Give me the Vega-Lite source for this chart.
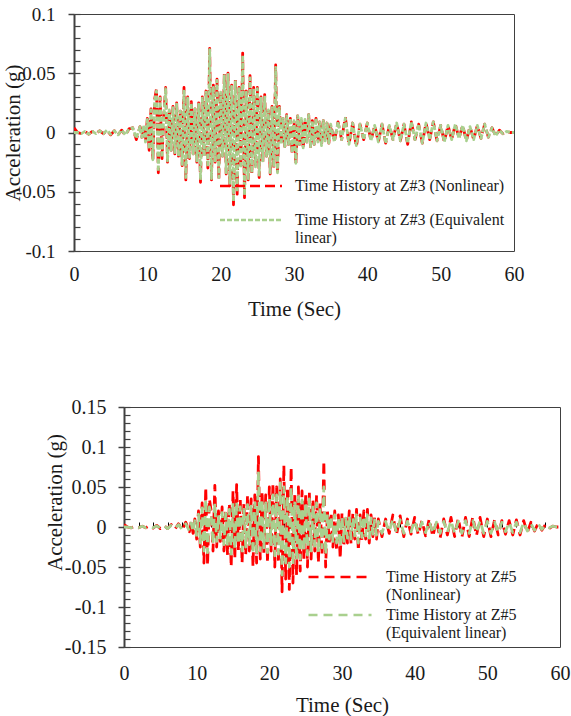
{
"$schema": "https://vega.github.io/schema/vega-lite/v6.json",
"background": "white",
"padding": {"left": 0, "top": 4, "right": 0, "bottom": 0},
"spacing": 76,
"resolve": {"scale": {"color": "independent", "strokeDash": "independent"}, "legend": {"color": "independent", "strokeDash": "independent"}},
"datasets": {
"z3": [
{"t":0,"n":0.004,"e":0},{"t":0.5,"n":0,"e":0},{"t":1,"n":-0.001,"e":-0.001},{"t":1.5,"n":0.001,"e":0.001},{"t":2,"n":-0.0015,"e":-0.0015},{"t":2.5,"n":0.001,"e":0.001},{"t":3,"n":-0.001,"e":-0.001},{"t":3.5,"n":0.0015,"e":0.0015},{"t":4,"n":-0.001,"e":-0.001},{"t":4.5,"n":0.002,"e":0.002},{"t":5,"n":-0.002,"e":-0.0015},{"t":5.5,"n":0.0015,"e":0.0015},{"t":6,"n":-0.002,"e":-0.002},{"t":6.5,"n":0.002,"e":0.002},{"t":7,"n":-0.0025,"e":-0.002},{"t":7.5,"n":0.003,"e":0.003},{"t":8,"n":0.004,"e":0.004},{"t":8.5,"n":-0.006,"e":-0.005},{"t":9,"n":0.005,"e":0.005},
{"t":9.25,"n":-0.004,"e":-0.004},{"t":9.5,"n":0.006,"e":0.006},{"t":9.75,"n":-0.008,"e":-0.008},{"t":10,"n":0.012,"e":0.011},{"t":10.25,"n":-0.015,"e":-0.014},{"t":10.5,"n":0.02,"e":0.019},{"t":10.75,"n":-0.024,"e":-0.023},{"t":11,"n":0.028,"e":0.027},{"t":11.25,"n":0.037,"e":0.035},{"t":11.5,"n":-0.034,"e":-0.033},{"t":11.75,"n":0.03,"e":0.029},{"t":12,"n":-0.022,"e":-0.021},{"t":12.25,"n":0.015,"e":0.015},{"t":12.5,"n":0.038,"e":0.037},{"t":12.75,"n":-0.025,"e":-0.024},{"t":13,"n":0.02,"e":0.019},{"t":13.25,"n":-0.015,"e":-0.015},{"t":13.5,"n":0.022,"e":0.021},{"t":13.75,"n":-0.018,"e":-0.017},{"t":14,"n":0.025,"e":0.024},{"t":14.25,"n":-0.02,"e":-0.02},{"t":14.5,"n":0.018,"e":0.018},{"t":14.75,"n":-0.028,"e":-0.027},{"t":15,"n":0.038,"e":0.036},{"t":15.25,"n":-0.04,"e":-0.038},{"t":15.5,"n":0.03,"e":0.029},{"t":15.75,"n":-0.022,"e":-0.021},{"t":16,"n":0.026,"e":0.025},{"t":16.25,"n":-0.018,"e":-0.018},{"t":16.5,"n":0.02,"e":0.02},{"t":16.75,"n":-0.025,"e":-0.024},{"t":17,"n":0.025,"e":0.024},{"t":17.25,"n":-0.042,"e":-0.04},{"t":17.5,"n":0.03,"e":0.029},{"t":17.75,"n":-0.02,"e":-0.02},{"t":18,"n":0.035,"e":0.034},{"t":18.25,"n":-0.03,"e":-0.029},{"t":18.5,"n":0.071,"e":0.07},{"t":18.75,"n":-0.04,"e":-0.039},{"t":19,"n":0.04,"e":0.038},{"t":19.25,"n":-0.025,"e":-0.025},{"t":19.5,"n":0.045,"e":0.044},{"t":19.75,"n":-0.04,"e":-0.038},{"t":20,"n":0.035,"e":0.034},{"t":20.25,"n":-0.02,"e":-0.02},{"t":20.5,"n":0.05,"e":0.048},{"t":20.75,"n":-0.035,"e":-0.034},{"t":21,"n":0.05,"e":0.049},{"t":21.25,"n":-0.045,"e":-0.043},{"t":21.5,"n":0.04,"e":0.039},{"t":21.75,"n":-0.061,"e":-0.058},{"t":22,"n":0.045,"e":0.043},{"t":22.25,"n":-0.052,"e":-0.05},{"t":22.5,"n":0.038,"e":0.037},{"t":22.75,"n":-0.03,"e":-0.03},{"t":23,"n":0.067,"e":0.065},{"t":23.25,"n":-0.055,"e":-0.053},{"t":23.5,"n":0.035,"e":0.034},{"t":23.75,"n":-0.04,"e":-0.039},{"t":24,"n":0.048,"e":0.046},{"t":24.25,"n":-0.035,"e":-0.034},{"t":24.5,"n":0.038,"e":0.037},{"t":24.75,"n":-0.03,"e":-0.029},{"t":25,"n":0.038,"e":0.037},{"t":25.25,"n":-0.038,"e":-0.036},{"t":25.5,"n":0.03,"e":0.029},{"t":25.75,"n":-0.025,"e":-0.024},{"t":26,"n":0.032,"e":0.031},{"t":26.25,"n":-0.02,"e":-0.02},{"t":26.5,"n":0.02,"e":0.019},{"t":26.75,"n":-0.035,"e":-0.034},{"t":27,"n":0.022,"e":0.021},{"t":27.25,"n":-0.03,"e":-0.029},{"t":27.5,"n":0.057,"e":0.055},{"t":27.75,"n":-0.035,"e":-0.034},{"t":28,"n":0.022,"e":0.021},{"t":28.25,"n":-0.01,"e":-0.01},{"t":28.5,"n":0.012,"e":0.012},{"t":28.75,"n":-0.012,"e":-0.012},{"t":29,"n":0.015,"e":0.014},{"t":29.25,"n":-0.01,"e":-0.01},{"t":29.5,"n":0.012,"e":0.012},{"t":29.75,"n":-0.018,"e":-0.017},{"t":30,"n":0.01,"e":0.01},{"t":30.25,"n":-0.027,"e":-0.026},{"t":30.5,"n":0.014,"e":0.014},{"t":30.75,"n":-0.01,"e":-0.01},{"t":31,"n":0.012,"e":0.012},{"t":31.25,"n":-0.014,"e":-0.013},{"t":31.5,"n":0.011,"e":0.011},{"t":31.75,"n":-0.008,"e":-0.008},{"t":32,"n":0.015,"e":0.015},{"t":32.25,"n":-0.012,"e":-0.012},{"t":32.5,"n":0.01,"e":0.01},{"t":32.75,"n":-0.01,"e":-0.01},{"t":33,"n":0.012,"e":0.012},{"t":33.25,"n":-0.008,"e":-0.008},{"t":33.5,"n":0.009,"e":0.009},{"t":33.75,"n":-0.011,"e":-0.011},{"t":34,"n":0.01,"e":0.01},{"t":34.25,"n":-0.007,"e":-0.007},{"t":34.5,"n":0.008,"e":0.008},{"t":34.75,"n":-0.009,"e":-0.009},{"t":35,"n":0.007,"e":0.007},
{"t":35.5,"n":-0.008,"e":-0.008},{"t":36,"n":0.009,"e":0.009},{"t":36.5,"n":-0.006,"e":-0.006},{"t":37,"n":0.013,"e":0.012},{"t":37.5,"n":-0.01,"e":-0.01},{"t":38,"n":0.008,"e":0.008},{"t":38.5,"n":-0.012,"e":-0.011},{"t":39,"n":0.007,"e":0.007},{"t":39.5,"n":-0.006,"e":-0.006},{"t":40,"n":0.008,"e":0.008},{"t":40.5,"n":-0.007,"e":-0.007},{"t":41,"n":0.006,"e":0.006},{"t":41.5,"n":-0.008,"e":-0.008},{"t":42,"n":0.007,"e":0.007},{"t":42.5,"n":-0.009,"e":-0.009},{"t":43,"n":0.006,"e":0.006},{"t":43.5,"n":-0.006,"e":-0.006},{"t":44,"n":0.008,"e":0.008},{"t":44.5,"n":-0.007,"e":-0.007},{"t":45,"n":0.007,"e":0.007},{"t":45.5,"n":-0.01,"e":-0.009},{"t":46,"n":0.009,"e":0.009},{"t":46.5,"n":-0.006,"e":-0.006},{"t":47,"n":0.007,"e":0.007},{"t":47.5,"n":-0.009,"e":-0.009},{"t":48,"n":0.008,"e":0.008},{"t":48.5,"n":-0.006,"e":-0.006},{"t":49,"n":0.009,"e":0.009},{"t":49.5,"n":-0.007,"e":-0.007},{"t":50,"n":0.006,"e":0.006},{"t":50.5,"n":-0.008,"e":-0.008},{"t":51,"n":0.006,"e":0.006},{"t":51.5,"n":-0.006,"e":-0.006},{"t":52,"n":0.007,"e":0.007},{"t":52.5,"n":-0.005,"e":-0.005},{"t":53,"n":0.006,"e":0.006},{"t":53.5,"n":-0.007,"e":-0.007},{"t":54,"n":0.005,"e":0.005},{"t":54.5,"n":-0.006,"e":-0.006},{"t":55,"n":0.006,"e":0.006},{"t":55.5,"n":-0.005,"e":-0.005},{"t":56,"n":0.007,"e":0.007},{"t":56.5,"n":-0.004,"e":-0.004},{"t":57,"n":0.004,"e":0.004},{"t":57.5,"n":-0.003,"e":-0.003},{"t":58,"n":0.002,"e":0.002},{"t":58.5,"n":-0.001,"e":-0.001},{"t":59,"n":0.001,"e":0.001},{"t":59.5,"n":0,"e":0},{"t":60,"n":0,"e":0}
],
"z5": [
{"t":0,"n":0.003,"e":0},{"t":0.5,"n":0,"e":0},{"t":1,"n":-0.001,"e":-0.001},{"t":1.5,"n":0.001,"e":0.001},{"t":2,"n":-0.001,"e":-0.001},{"t":2.5,"n":0.001,"e":0.001},{"t":3,"n":-0.001,"e":-0.001},{"t":3.5,"n":0.0015,"e":0.001},{"t":4,"n":-0.0015,"e":-0.001},{"t":4.5,"n":0.002,"e":0.0015},{"t":5,"n":-0.002,"e":-0.0015},{"t":5.5,"n":0.002,"e":0.0015},{"t":6,"n":-0.002,"e":-0.002},{"t":6.5,"n":0.003,"e":0.002},{"t":7,"n":-0.003,"e":-0.002},{"t":7.5,"n":0.004,"e":0.003},{"t":8,"n":-0.004,"e":-0.003},{"t":8.5,"n":0.006,"e":0.004},{"t":9,"n":-0.006,"e":-0.005},
{"t":9.25,"n":0.007,"e":0.005},{"t":9.5,"n":-0.008,"e":-0.006},{"t":9.75,"n":0.01,"e":0.008},{"t":10,"n":-0.015,"e":-0.012},{"t":10.25,"n":0.02,"e":0.016},{"t":10.5,"n":-0.025,"e":-0.02},{"t":10.75,"n":0.03,"e":0.024},{"t":11,"n":-0.045,"e":-0.03},{"t":11.25,"n":0.05,"e":0.035},{"t":11.5,"n":-0.048,"e":-0.032},{"t":11.75,"n":0.035,"e":0.025},{"t":12,"n":0.02,"e":0.016},{"t":12.25,"n":-0.03,"e":-0.022},{"t":12.5,"n":0.052,"e":0.03},{"t":12.75,"n":-0.025,"e":-0.018},{"t":13,"n":0.02,"e":0.015},{"t":13.25,"n":-0.018,"e":-0.014},{"t":13.5,"n":0.025,"e":0.018},{"t":13.75,"n":-0.03,"e":-0.022},{"t":14,"n":0.022,"e":0.017},{"t":14.25,"n":-0.035,"e":-0.025},{"t":14.5,"n":0.03,"e":0.022},{"t":14.75,"n":-0.05,"e":-0.034},{"t":15,"n":0.045,"e":0.03},{"t":15.25,"n":-0.04,"e":-0.028},{"t":15.5,"n":0.053,"e":0.032},{"t":15.75,"n":-0.03,"e":-0.022},{"t":16,"n":0.035,"e":0.025},{"t":16.25,"n":-0.045,"e":-0.03},{"t":16.5,"n":0.03,"e":0.022},{"t":16.75,"n":-0.035,"e":-0.025},{"t":17,"n":0.04,"e":0.028},{"t":17.25,"n":-0.03,"e":-0.022},{"t":17.5,"n":0.035,"e":0.026},{"t":17.75,"n":-0.05,"e":-0.034},{"t":18,"n":0.04,"e":0.03},{"t":18.25,"n":-0.045,"e":-0.032},{"t":18.5,"n":0.088,"e":0.07},{"t":18.75,"n":-0.04,"e":-0.03},{"t":19,"n":0.045,"e":0.035},{"t":19.25,"n":-0.035,"e":-0.026},{"t":19.5,"n":0.04,"e":0.03},{"t":19.75,"n":-0.045,"e":-0.032},{"t":20,"n":0.05,"e":0.036},{"t":20.25,"n":-0.03,"e":-0.022},{"t":20.5,"n":0.055,"e":0.04},{"t":20.75,"n":-0.05,"e":-0.036},{"t":21,"n":0.05,"e":0.04},{"t":21.25,"n":-0.045,"e":-0.034},{"t":21.5,"n":0.06,"e":0.055},{"t":21.75,"n":-0.081,"e":-0.06},{"t":22,"n":0.077,"e":0.05},{"t":22.25,"n":-0.065,"e":-0.045},{"t":22.5,"n":0.05,"e":0.038},{"t":22.75,"n":-0.078,"e":-0.05},{"t":23,"n":0.075,"e":0.05},{"t":23.25,"n":-0.07,"e":-0.048},{"t":23.5,"n":0.04,"e":0.03},{"t":23.75,"n":-0.06,"e":-0.042},{"t":24,"n":0.05,"e":0.038},{"t":24.25,"n":-0.055,"e":-0.04},{"t":24.5,"n":0.045,"e":0.034},{"t":24.75,"n":-0.04,"e":-0.03},{"t":25,"n":0.04,"e":0.03},{"t":25.25,"n":-0.05,"e":-0.035},{"t":25.5,"n":0.045,"e":0.035},{"t":25.75,"n":-0.04,"e":-0.03},{"t":26,"n":0.035,"e":0.028},{"t":26.25,"n":-0.03,"e":-0.024},{"t":26.5,"n":0.04,"e":0.03},{"t":26.75,"n":-0.045,"e":-0.032},{"t":27,"n":0.03,"e":0.024},{"t":27.25,"n":-0.035,"e":-0.026},{"t":27.5,"n":0.083,"e":0.05},{"t":27.75,"n":-0.05,"e":-0.035},{"t":28,"n":0.02,"e":0.016},{"t":28.25,"n":-0.02,"e":-0.015},{"t":28.5,"n":0.018,"e":0.014},{"t":28.75,"n":-0.025,"e":-0.018},{"t":29,"n":0.02,"e":0.015},{"t":29.25,"n":-0.03,"e":-0.02},{"t":29.5,"n":0.015,"e":0.012},{"t":29.75,"n":-0.04,"e":-0.025},{"t":30,"n":0.018,"e":0.013},{"t":30.25,"n":-0.025,"e":-0.018},{"t":30.5,"n":0.015,"e":0.011},{"t":30.75,"n":-0.02,"e":-0.014},{"t":31,"n":0.02,"e":0.014},{"t":31.25,"n":-0.022,"e":-0.015},{"t":31.5,"n":0.018,"e":0.012},{"t":31.75,"n":-0.015,"e":-0.011},{"t":32,"n":0.022,"e":0.015},{"t":32.25,"n":-0.03,"e":-0.02},{"t":32.5,"n":0.015,"e":0.011},{"t":32.75,"n":-0.018,"e":-0.013},{"t":33,"n":0.02,"e":0.014},{"t":33.25,"n":-0.015,"e":-0.011},{"t":33.5,"n":0.022,"e":0.015},{"t":33.75,"n":-0.02,"e":-0.014},{"t":34,"n":0.015,"e":0.011},{"t":34.25,"n":-0.012,"e":-0.009},{"t":34.5,"n":0.012,"e":0.009},{"t":34.75,"n":-0.015,"e":-0.01},{"t":35,"n":0.01,"e":0.007},
{"t":35.5,"n":-0.012,"e":-0.008},{"t":36,"n":0.01,"e":0.007},{"t":36.5,"n":-0.008,"e":-0.006},{"t":37,"n":0.015,"e":0.01},{"t":37.5,"n":-0.01,"e":-0.007},{"t":38,"n":0.014,"e":0.009},{"t":38.5,"n":-0.012,"e":-0.008},{"t":39,"n":0.01,"e":0.007},{"t":39.5,"n":-0.009,"e":-0.006},{"t":40,"n":0.012,"e":0.008},{"t":40.5,"n":-0.01,"e":-0.007},{"t":41,"n":0.008,"e":0.006},{"t":41.5,"n":-0.011,"e":-0.007},{"t":42,"n":0.01,"e":0.007},{"t":42.5,"n":-0.012,"e":-0.008},{"t":43,"n":0.008,"e":0.006},{"t":43.5,"n":-0.014,"e":-0.008},{"t":44,"n":0.01,"e":0.007},{"t":44.5,"n":-0.01,"e":-0.007},{"t":45,"n":0.012,"e":0.008},{"t":45.5,"n":-0.012,"e":-0.008},{"t":46,"n":0.011,"e":0.007},{"t":46.5,"n":-0.013,"e":-0.008},{"t":47,"n":0.012,"e":0.008},{"t":47.5,"n":-0.012,"e":-0.008},{"t":48,"n":0.013,"e":0.008},{"t":48.5,"n":-0.011,"e":-0.007},{"t":49,"n":0.012,"e":0.008},{"t":49.5,"n":-0.012,"e":-0.008},{"t":50,"n":0.01,"e":0.007},{"t":50.5,"n":-0.012,"e":-0.008},{"t":51,"n":0.009,"e":0.006},{"t":51.5,"n":-0.01,"e":-0.007},{"t":52,"n":0.008,"e":0.006},{"t":52.5,"n":-0.009,"e":-0.006},{"t":53,"n":0.008,"e":0.006},{"t":53.5,"n":-0.01,"e":-0.007},{"t":54,"n":0.009,"e":0.006},{"t":54.5,"n":-0.01,"e":-0.007},{"t":55,"n":0.008,"e":0.006},{"t":55.5,"n":-0.007,"e":-0.005},{"t":56,"n":0.006,"e":0.004},{"t":56.5,"n":-0.005,"e":-0.004},{"t":57,"n":0.005,"e":0.004},{"t":57.5,"n":-0.004,"e":-0.003},{"t":58,"n":0.003,"e":0.002},{"t":58.5,"n":-0.002,"e":-0.001},{"t":59,"n":0.001,"e":0.001},{"t":59.5,"n":0,"e":0},{"t":60,"n":0,"e":0}
]
},
"vconcat": [
{
"spacing": 0,
"resolve": {"scale": {"color": "independent", "strokeDash": "independent"}, "legend": {"color": "independent", "strokeDash": "independent"}},
"hconcat": [
{"width": 1, "height": 10, "data": {"values": []}, "mark": "point", "view": {"stroke": null}},
{
"width": 440, "height": 237,
"data": {"name": "z3"},
"transform": [{"fold": ["n", "e"], "as": ["series", "a"]}],
"layer": [
{
"transform": [{"filter": "datum.series === 'n'"}],
"mark": {"type": "line", "strokeWidth": 2.8, "strokeJoin": "round", "clip": true},
"encoding": {
"x": {"field": "t", "type": "quantitative", "scale": {"domain": [0, 60], "nice": false},
"axis": {"values": [0, 10, 20, 30, 40, 50, 60], "ticks": false, "domain": false, "labelFlush": false, "labelFontSize": 20, "labelBaseline": "middle", "labelPadding": 23, "title": "Time (Sec)", "titleFontSize": 21, "titleBaseline": "middle", "titleY": 58}},
"y": {"field": "a", "type": "quantitative", "scale": {"domain": [-0.1, 0.1], "nice": false, "zero": false},
"axis": {"orient": "left", "values": [-0.1, -0.05, 0, 0.05, 0.1], "labelExpr": "replace(format(datum.value, '~g'), '\u2212', '-')", "tickSize": 6, "tickColor": "#404040", "tickWidth": 1.5, "domainColor": "#404040", "domainWidth": 2, "labelFontSize": 19, "labelPadding": 13, "title": "Acceleration (g)", "titleFontSize": 21, "titleBaseline": "bottom", "titleX": -51, "titleY": 118.5}},
"color": {"field": "series", "type": "nominal", "scale": {"domain": ["n", "e"], "range": ["#FF0000", "#A9D08E"]},
"legend": {"orient": "none", "legendX": 165, "legendY": 160, "title": null, "symbolType": "M-3,0H3", "symbolSize": 427, "symbolStrokeWidth": 2.5, "labelFontSize": 16, "labelOffset": 32, "labelLimit": 400, "padding": 0, "rowPadding": 14,
"labelExpr": "datum.value === 'n' ? 'Time History at Z#3 (Nonlinear)' : ['Time History at Z#3 (Equivalent', 'linear)']"}},
"strokeDash": {"field": "series", "type": "nominal", "scale": {"domain": ["n", "e"], "range": [[10, 5], [5, 2]]},
"legend": {"orient": "none", "legendX": 165, "legendY": 160, "title": null, "symbolType": "M-3,0H3", "symbolSize": 427, "symbolStrokeWidth": 2.5, "labelFontSize": 16, "labelOffset": 32, "labelLimit": 400, "padding": 0, "rowPadding": 14,
"labelExpr": "datum.value === 'n' ? 'Time History at Z#3 (Nonlinear)' : ['Time History at Z#3 (Equivalent', 'linear)']"}}
}
},
{
"transform": [{"filter": "datum.series === 'e'"}],
"mark": {"type": "line", "strokeWidth": 2.8, "strokeJoin": "round", "clip": true},
"encoding": {
"x": {"field": "t", "type": "quantitative"},
"y": {"field": "a", "type": "quantitative",
"axis": {"orient": "left", "values": [-0.1, -0.09, -0.08, -0.07, -0.06, -0.05, -0.04, -0.03, -0.02, -0.01, 0, 0.01, 0.02, 0.03, 0.04, 0.05, 0.06, 0.07, 0.08, 0.09, 0.1], "labels": false, "domain": false, "tickSize": -6, "tickColor": "#404040", "tickWidth": 1.2, "title": null}},
"color": {"field": "series", "type": "nominal"},
"strokeDash": {"field": "series", "type": "nominal"}
}
}
],
"resolve": {"axis": {"y": "independent"}}
}
]
},
{
"spacing": 0,
"resolve": {"scale": {"color": "independent", "strokeDash": "independent"}, "legend": {"color": "independent", "strokeDash": "independent"}},
"hconcat": [
{"width": 43, "height": 10, "data": {"values": []}, "mark": "point", "view": {"stroke": null}},
{
"width": 436, "height": 240,
"data": {"name": "z5"},
"transform": [{"fold": ["n", "e"], "as": ["series", "a"]}],
"layer": [
{
"transform": [{"filter": "datum.series === 'n'"}],
"mark": {"type": "line", "strokeWidth": 2.8, "strokeJoin": "round", "clip": true},
"encoding": {
"x": {"field": "t", "type": "quantitative", "scale": {"domain": [0, 60], "nice": false},
"axis": {"values": [0, 10, 20, 30, 40, 50, 60], "ticks": false, "domain": false, "labelFlush": false, "labelFontSize": 20, "labelBaseline": "middle", "labelPadding": 26, "title": "Time (Sec)", "titleFontSize": 21, "titleBaseline": "middle", "titleY": 58}},
"y": {"field": "a", "type": "quantitative", "scale": {"domain": [-0.15, 0.15], "nice": false, "zero": false},
"axis": {"orient": "left", "values": [-0.15, -0.1, -0.05, 0, 0.05, 0.1, 0.15], "labelExpr": "replace(format(datum.value, '~g'), '\u2212', '-')", "tickSize": 6, "tickColor": "#404040", "tickWidth": 1.5, "domainColor": "#404040", "domainWidth": 2, "labelFontSize": 20, "labelPadding": 12, "title": "Acceleration (g)", "titleFontSize": 21, "titleBaseline": "bottom", "titleX": -59, "titleY": 95}},
"color": {"field": "series", "type": "nominal", "scale": {"domain": ["n", "e"], "range": ["#FF0000", "#A9D08E"]},
"legend": {"orient": "none", "legendX": 204, "legendY": 158, "title": null, "symbolType": "M-3,0H3", "symbolSize": 441, "symbolStrokeWidth": 2.5, "labelFontSize": 16, "labelOffset": 34, "labelLimit": 400, "padding": 0, "rowPadding": -3,
"labelExpr": "datum.value === 'n' ? ['Time History at Z#5', '(Nonlinear)'] : ['Time History at Z#5', '(Equivalent linear)']"}},
"strokeDash": {"field": "series", "type": "nominal", "scale": {"domain": ["n", "e"], "range": [[10, 6], [9, 6]]},
"legend": {"orient": "none", "legendX": 204, "legendY": 158, "title": null, "symbolType": "M-3,0H3", "symbolSize": 441, "symbolStrokeWidth": 2.5, "labelFontSize": 16, "labelOffset": 34, "labelLimit": 400, "padding": 0, "rowPadding": -3,
"labelExpr": "datum.value === 'n' ? ['Time History at Z#5', '(Nonlinear)'] : ['Time History at Z#5', '(Equivalent linear)']"}}
}
},
{
"transform": [{"filter": "datum.series === 'e'"}],
"mark": {"type": "line", "strokeWidth": 2.8, "strokeJoin": "round", "clip": true},
"encoding": {
"x": {"field": "t", "type": "quantitative",
"axis": {"orient": "bottom", "offset": -120, "values": [2, 4, 6, 8, 10, 12, 14, 16, 18, 20, 22, 24, 26, 28, 30, 32, 34, 36, 38, 40, 42, 44, 46, 48, 50, 52, 54, 56, 58], "labels": false, "domain": false, "tickSize": -5, "tickColor": "#000000", "tickWidth": 1, "title": null}},
"y": {"field": "a", "type": "quantitative",
"axis": {"orient": "left", "values": [-0.15, -0.14, -0.13, -0.12, -0.11, -0.1, -0.09, -0.08, -0.07, -0.06, -0.05, -0.04, -0.03, -0.02, -0.01, 0, 0.01, 0.02, 0.03, 0.04, 0.05, 0.06, 0.07, 0.08, 0.09, 0.1, 0.11, 0.12, 0.13, 0.14, 0.15], "labels": false, "domain": false, "tickSize": -6, "tickColor": "#404040", "tickWidth": 1.2, "title": null}},
"color": {"field": "series", "type": "nominal"},
"strokeDash": {"field": "series", "type": "nominal"}
}
}
],
"resolve": {"axis": {"x": "independent", "y": "independent"}}
}
]
}
],
"config": {
"font": "Liberation Serif",
"view": {"stroke": "#404040", "strokeWidth": 1},
"axis": {"grid": false, "labelFont": "Liberation Serif", "titleFont": "Liberation Serif", "labelColor": "#1a1a1a", "titleColor": "#1a1a1a", "titleFontWeight": "normal"},
"legend": {"labelFont": "Liberation Serif", "labelColor": "#1a1a1a"}
}
}
